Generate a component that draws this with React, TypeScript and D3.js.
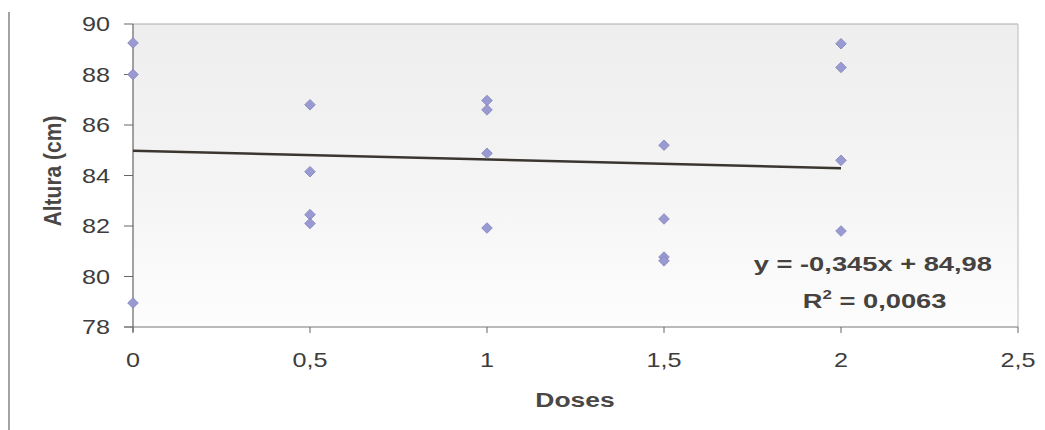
import React from 'react';
import * as d3 from 'd3';

// doses (x) and measured height (y) for every plotted point
const doses = [0, 0, 0, 0.5, 0.5, 0.5, 0.5, 1, 1, 1, 1, 1.5, 1.5, 1.5, 1.5, 2, 2, 2, 2];
const altura = [89.25, 88.0, 78.95, 86.8, 84.15, 82.45, 82.1, 86.97, 86.6, 84.88, 81.92, 85.2, 82.28, 80.77, 80.62, 89.22, 88.28, 84.6, 81.8];

// trendline coefficients as printed on the chart
const slope = -0.345;
const intercept = 84.98;
const trendX = [0, 2];

const xTicks = [0, 0.5, 1, 1.5, 2, 2.5];
const yTicks = [78, 80, 82, 84, 86, 88, 90];

const W = 1045;
const H = 430;
const margin = { top: 24, right: 27, bottom: 103, left: 133 };

// the scanned original is stretched horizontally
const SX = 1.26;

const fmt = (v: number) => String(v).replace('.', ',');

export default function App() {
  const innerW = W - margin.left - margin.right;
  const innerH = H - margin.top - margin.bottom;

  const x = d3.scaleLinear().domain([0, 2.5]).range([0, innerW]);
  const y = d3.scaleLinear().domain([78, 90]).range([innerH, 0]);

  const line = d3
    .line<number>()
    .x((d) => x(d))
    .y((d) => y(slope * d + intercept));

  const marker = d3.symbol().type(d3.symbolSquare).size(56)() as string;
  const font = '"Liberation Sans", Arial, sans-serif';

  return (
    <svg
      width={W}
      height={H}
      style={{ position: 'absolute', left: 0, top: 0, background: '#fff' }}
      fontFamily={font}
    >
      <defs>
        <linearGradient id="bg" x1="0" y1="0" x2="0" y2="1">
          <stop offset="0%" stopColor="#eeeeee" />
          <stop offset="45%" stopColor="#f3f3f3" />
          <stop offset="100%" stopColor="#fdfdfd" />
        </linearGradient>
      </defs>

      {/* scanned page edge on the left */}
      <line x1={9} x2={9} y1={12} y2={H} stroke="#666" strokeWidth={1.2} />

      <g transform={`translate(${margin.left},${margin.top})`}>
        <rect width={innerW} height={innerH} fill="url(#bg)" />
        <line x1={0} x2={innerW} y1={0} y2={0} stroke="#aaa" strokeWidth={1} />
        <line x1={innerW} x2={innerW} y1={0} y2={innerH} stroke="#bbb" strokeWidth={1} />

        {/* y axis */}
        <line x1={0} x2={0} y1={0} y2={innerH + 5} stroke="#666" strokeWidth={1.2} />
        {yTicks.map((t) => (
          <g key={t} transform={`translate(0,${y(t)})`}>
            <line x1={-9} x2={0} stroke="#666" strokeWidth={1} />
            <text
              transform={`translate(-23,0) scale(${SX},1)`}
              dy="0.36em"
              textAnchor="end"
              fontSize={20}
              fill="#3d3d3d"
            >
              {t}
            </text>
          </g>
        ))}

        {/* x axis */}
        <line x1={-9} x2={innerW} y1={innerH} y2={innerH} stroke="#777" strokeWidth={1.2} />
        {xTicks.map((t) => (
          <g key={t} transform={`translate(${x(t)},${innerH})`}>
            <line y1={0} y2={6} stroke="#666" strokeWidth={1} />
            <text
              transform={`translate(0,40) scale(${SX},1)`}
              textAnchor="middle"
              fontSize={20}
              fill="#3d3d3d"
            >
              {fmt(t)}
            </text>
          </g>
        ))}

        {/* trendline */}
        <path d={line(trendX) as string} fill="none" stroke="#3b3530" strokeWidth={2.4} />

        {/* points */}
        {doses.map((d, i) => (
          <path
            key={i}
            d={marker}
            transform={`translate(${x(d)},${y(altura[i])}) rotate(45)`}
            fill="#9a9ad2"
            stroke="#8484bd"
            strokeWidth={0.8}
          />
        ))}

        {/* equation */}
        <text
          transform={`translate(${x(2.09)},${y(80.21)}) scale(1.3,1)`}
          textAnchor="middle"
          fontSize={21}
          fontWeight="bold"
          fill="#454240"
        >
          y = -0,345x + 84,98
        </text>
        <text
          transform={`translate(${x(2.095)},${y(78.75)}) scale(1.3,1)`}
          textAnchor="middle"
          fontSize={21}
          fontWeight="bold"
          fill="#454240"
        >
          R<tspan dy={-9} fontSize={13}>2</tspan>
          <tspan dy={9}> = 0,0063</tspan>
        </text>
      </g>

      {/* axis titles */}
      <text
        transform={`translate(575,407) scale(${SX},1)`}
        textAnchor="middle"
        fontSize={21}
        fontWeight="bold"
        fill="#4a4745"
      >
        Doses
      </text>
      <text
        transform="translate(53,171) scale(1.15,1) rotate(-90)"
        dy="0.35em"
        textAnchor="middle"
        fontSize={21}
        fontWeight="bold"
        fill="#4a4745"
      >
        Altura (cm)
      </text>
    </svg>
  );
}
